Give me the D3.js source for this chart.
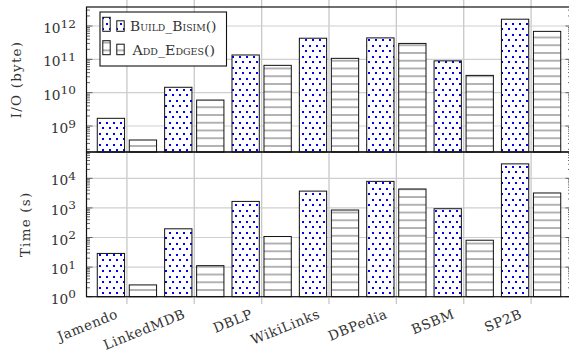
<!DOCTYPE html>
<html><head><meta charset="utf-8">
<script src="https://cdn.jsdelivr.net/npm/d3@7"></script>
<style>
body{margin:0;background:#fff}
svg{display:block}
</style></head><body>
<svg id="c" width="569" height="356"></svg>
<script>
const categories = ["Jamendo","LinkedMDB","DBLP","WikiLinks","DBPedia","BSBM","SP2B"];
const seriesNames = ["Build_Bisim()","Add_Edges()"];
const ioBuild = [1.7e9, 1.45e10, 1.35e11, 4.3e11, 4.4e11, 9.0e10, 1.6e12];
const ioAdd   = [3.8e8, 6.0e9, 6.6e10, 1.07e11, 3.0e11, 3.3e10, 6.9e11];
const timeBuild = [29, 197, 1660, 3700, 7900, 940, 30800];
const timeAdd   = [2.5, 11.2, 108, 850, 4370, 81, 3200];
const ioTicks = [1e9, 1e10, 1e11, 1e12];
const timeTicks = [1e0, 1e1, 1e2, 1e3, 1e4];
const yLabels = ["I/O (byte)", "Time (s)"];

const FONT = "'DejaVu Serif'";
const TXT = "#333";
const svg = d3.select("#c").attr("font-family", FONT);
const L = 86.5, R = 571.5;
const topP = {y0: 7, y1: 152, dom: [Math.pow(10, 8.22), Math.pow(10, 12.57)]};
const botP = {y0: 152, y1: 296.7, dom: [1, Math.pow(10, 4.89)]};

const x = d3.scalePoint().domain(categories).range([L, R]).padding(0.6);
const barW = 27.3, shift = 16;

const defs = svg.append("defs");
const pd = defs.append("pattern").attr("id","dots").attr("patternUnits","userSpaceOnUse")
  .attr("width",7).attr("height",11);
pd.append("rect").attr("width",7).attr("height",11).attr("fill","#fff");
pd.append("rect").attr("x",1).attr("y",1).attr("width",2).attr("height",2).attr("fill","#0000ff");
pd.append("rect").attr("x",4).attr("y",6).attr("width",2).attr("height",2).attr("fill","#0000ff");
function hpat(id, phase){
  const p = defs.append("pattern").attr("id",id).attr("patternUnits","userSpaceOnUse")
    .attr("width",10).attr("height",7.75).attr("patternTransform",`translate(0,${phase})`);
  p.append("rect").attr("width",10).attr("height",7.75).attr("fill","#fff");
  p.append("line").attr("x1",0).attr("x2",10).attr("y1",3.875).attr("y2",3.875)
    .attr("stroke","#555").attr("stroke-width",0.9);
}
hpat("hTop", 2.6); hpat("hBot", -0.6); hpat("hLeg", 0);

svg.append("g").selectAll("line").data(categories).join("line")
  .attr("x1", d=>x(d)).attr("x2", d=>x(d)).attr("y1", 0).attr("y2", 304)
  .attr("stroke","#c8c8c8").attr("stroke-width",1.3);

function panel(P, build, add, majors, hid, label, labelX){
  const y = d3.scaleLog().domain(P.dom).range([P.y1, P.y0]);
  const g = svg.append("g");
  g.append("g").selectAll("line").data(majors).join("line")
    .attr("x1", L).attr("x2", R).attr("y1", d=>y(d)).attr("y2", d=>y(d))
    .attr("stroke","#cfcfcf").attr("stroke-width",1.2);
  const minors = [];
  const lo = Math.floor(Math.log10(P.dom[0])), hi = Math.ceil(Math.log10(P.dom[1]));
  for (let e = lo; e <= hi; e++) for (let k = 2; k <= 9; k++) {
    const v = k * Math.pow(10, e);
    if (v > P.dom[0] && v < P.dom[1]) minors.push(v);
  }
  const tk = g.append("g").attr("stroke","#555").attr("stroke-width",0.9);
  minors.forEach(v => {
    tk.append("line").attr("x1",L).attr("x2",L+3.5).attr("y1",y(v)).attr("y2",y(v));
    tk.append("line").attr("x1",R-3.5).attr("x2",R).attr("y1",y(v)).attr("y2",y(v));
  });
  majors.forEach(v => {
    tk.append("line").attr("x1",L).attr("x2",L+6).attr("y1",y(v)).attr("y2",y(v));
    tk.append("line").attr("x1",R-6).attr("x2",R).attr("y1",y(v)).attr("y2",y(v));
  });
  const bars = g.append("g");
  bars.selectAll("rect.b").data(build).join("rect").attr("class","b")
    .attr("x",(d,i)=>x(categories[i]) - shift - barW/2).attr("width",barW)
    .attr("y",d=>y(d)).attr("height",d=>P.y1 - y(d))
    .attr("fill","url(#dots)").attr("stroke","#111").attr("stroke-width",1);
  bars.selectAll("rect.a").data(add).join("rect").attr("class","a")
    .attr("x",(d,i)=>x(categories[i]) + shift - barW/2).attr("width",barW)
    .attr("y",d=>y(d)).attr("height",d=>P.y1 - y(d))
    .attr("fill",`url(#${hid})`).attr("stroke","#111").attr("stroke-width",1);
  majors.forEach(v => {
    const t = g.append("text").attr("text-anchor","end").attr("fill",TXT)
      .attr("font-family", FONT)
      .attr("transform",`translate(76,${y(v)+7}) scale(1.1,1)`)
      .attr("font-size",12.5);
    t.append("tspan").text("10");
    t.append("tspan").attr("dy",-5.5).attr("font-size",11).text(String(Math.round(Math.log10(v))));
  });
  g.append("text").attr("text-anchor","middle").attr("fill",TXT).attr("font-family", FONT)
    .attr("transform",`translate(${labelX},${(P.y0+P.y1)/2}) rotate(-90)`)
    .attr("font-size",13.5).attr("letter-spacing",1.2).text(label);
  g.append("rect").attr("x",L).attr("y",P.y0).attr("width",R-L).attr("height",P.y1-P.y0)
    .attr("fill","none").attr("stroke","#111").attr("stroke-width",1.2);
  return y;
}
panel(topP, ioBuild, ioAdd, ioTicks, "hTop", yLabels[0], 21);
panel(botP, timeBuild, timeAdd, timeTicks, "hBot", yLabels[1], 29.5);

svg.append("g").selectAll("text").data(categories).join("text")
  .attr("text-anchor","end").attr("fill",TXT).attr("font-family", FONT)
  .attr("transform", d=>`translate(${x(d)-8},${317.5}) rotate(-22)`)
  .attr("font-size",13.5).attr("letter-spacing",0.6).text(d=>d);

const lg = svg.append("g");
lg.append("rect").attr("x",100).attr("y",12).attr("width",126.5).attr("height",54)
  .attr("fill","#fff").attr("stroke","#111").attr("stroke-width",1.1);
const rows = [{base:31.3, fill:"url(#dots)"},{base:54.7, fill:"url(#hLeg)"}];
rows.forEach((r,i) => {
  lg.append("rect").attr("x",102.8).attr("y",r.base-14).attr("width",7.4).attr("height",14)
    .attr("fill",r.fill).attr("stroke","#111").attr("stroke-width",1);
  lg.append("rect").attr("x",116.8).attr("y",r.base-10.5).attr("width",7.4).attr("height",10.5)
    .attr("fill",r.fill).attr("stroke","#111").attr("stroke-width",1);
  lg.append("text").attr("x", i===0?130:132.5).attr("y",r.base).attr("fill",TXT).attr("font-family", FONT)
    .attr("textLength", i===0?86.5:82.5).attr("lengthAdjust","spacingAndGlyphs")
    .attr("font-size",13.5).style("font-variant","small-caps").text(seriesNames[i]);
});
</script>
</body></html>
